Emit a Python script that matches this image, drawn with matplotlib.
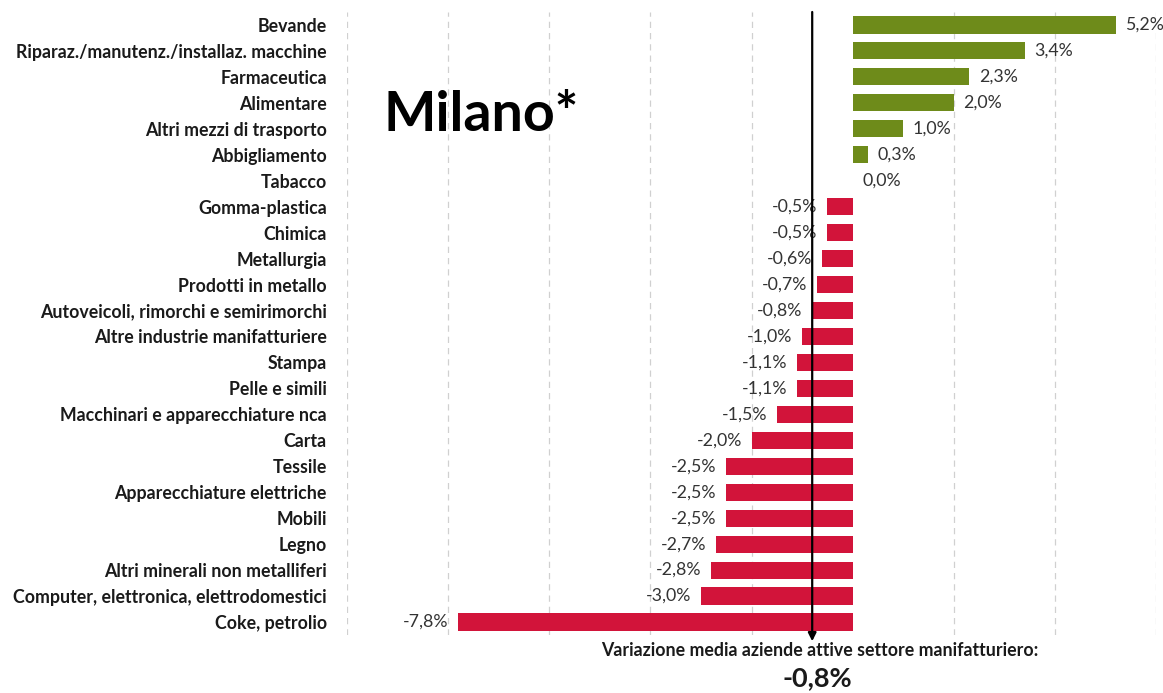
import matplotlib
matplotlib.use('Agg')
import matplotlib.pyplot as plt

plt.rcParams['font.family'] = ['Lato', 'DejaVu Sans']

categories = [
    'Bevande', 'Riparaz./manutenz./installaz. macchine', 'Farmaceutica',
    'Alimentare', 'Altri mezzi di trasporto', 'Abbigliamento', 'Tabacco',
    'Gomma-plastica', 'Chimica', 'Metallurgia', 'Prodotti in metallo',
    'Autoveicoli, rimorchi e semirimorchi', 'Altre industrie manifatturiere',
    'Stampa', 'Pelle e simili', 'Macchinari e apparecchiature nca', 'Carta',
    'Tessile', 'Apparecchiature elettriche', 'Mobili', 'Legno',
    'Altri minerali non metalliferi', 'Computer, elettronica, elettrodomestici',
    'Coke, petrolio',
]
values = [5.2, 3.4, 2.3, 2.0, 1.0, 0.3, 0.0, -0.5, -0.5, -0.6, -0.7, -0.8,
          -1.0, -1.1, -1.1, -1.5, -2.0, -2.5, -2.5, -2.5, -2.7, -2.8, -3.0, -7.8]
media = -0.8
grid_ticks = [-10, -8, -6, -4, -2, 2, 4, 6]

green = '#6E8B1A'
red = '#D2143A'

fig = plt.figure(figsize=(11.63, 6.93), dpi=100)
ax = fig.add_axes([0.2984, 0.0837, 0.6956, 0.899])

y = list(range(len(categories)))
colors = [green if v > 0 else red for v in values]
ax.barh(y, values, height=0.66, color=colors, zorder=2)
ax.set_ylim(len(categories) - 0.5, -0.5)
ax.set_xlim(-10, 6)

# griglia tratteggiata (niente linea sullo zero)
for g in grid_ticks:
    ax.axvline(g, color='#D0D0D0', lw=0.9, ls=(0, (5, 4)), zorder=0)

ax.set_yticks(y)
ax.set_yticklabels(categories, fontsize=12.8, fontweight='bold', color='#1a1a1a')
ax.tick_params(axis='y', length=0, pad=14.5)
ax.set_xticks([])
for s in ax.spines.values():
    s.set_visible(False)

for yi, v in zip(y, values):
    lab = f'{v:.1f}%'.replace('.', ',')
    if v < 0:
        ax.annotate(lab, (v, yi), xytext=(-7, 0), textcoords='offset points',
                    ha='right', va='center', fontsize=12.8, color='#333333')
    else:
        ax.annotate(lab, (v, yi), xytext=(7, 0), textcoords='offset points',
                    ha='left', va='center', fontsize=12.8, color='#333333')

ax.annotate('', xy=(media, -0.01), xycoords=('data', 'axes fraction'),
            xytext=(media, 1.0), textcoords=('data', 'axes fraction'),
            arrowprops=dict(arrowstyle='-|>', lw=1.6, color='black',
                            mutation_scale=12, shrinkA=0, shrinkB=0),
            annotation_clip=False)

ax.text(media + 0.14, -0.025, 'Variazione media aziende attive settore manifatturiero:',
        transform=ax.get_xaxis_transform(), ha='center', va='center',
        fontsize=12.8, fontweight='bold', color='#1a1a1a')
ax.text(media + 0.1, -0.07, f'{media:.1f}%'.replace('.', ','),
        transform=ax.get_xaxis_transform(), ha='center', va='center',
        fontsize=19.5, fontweight='bold', color='#1a1a1a')

fig.text(383 / 1163, 1 - 115 / 693, 'Milano*', ha='left', va='center',
         fontsize=40, fontweight='bold', color='black')

fig.savefig('out.png', dpi=100)
